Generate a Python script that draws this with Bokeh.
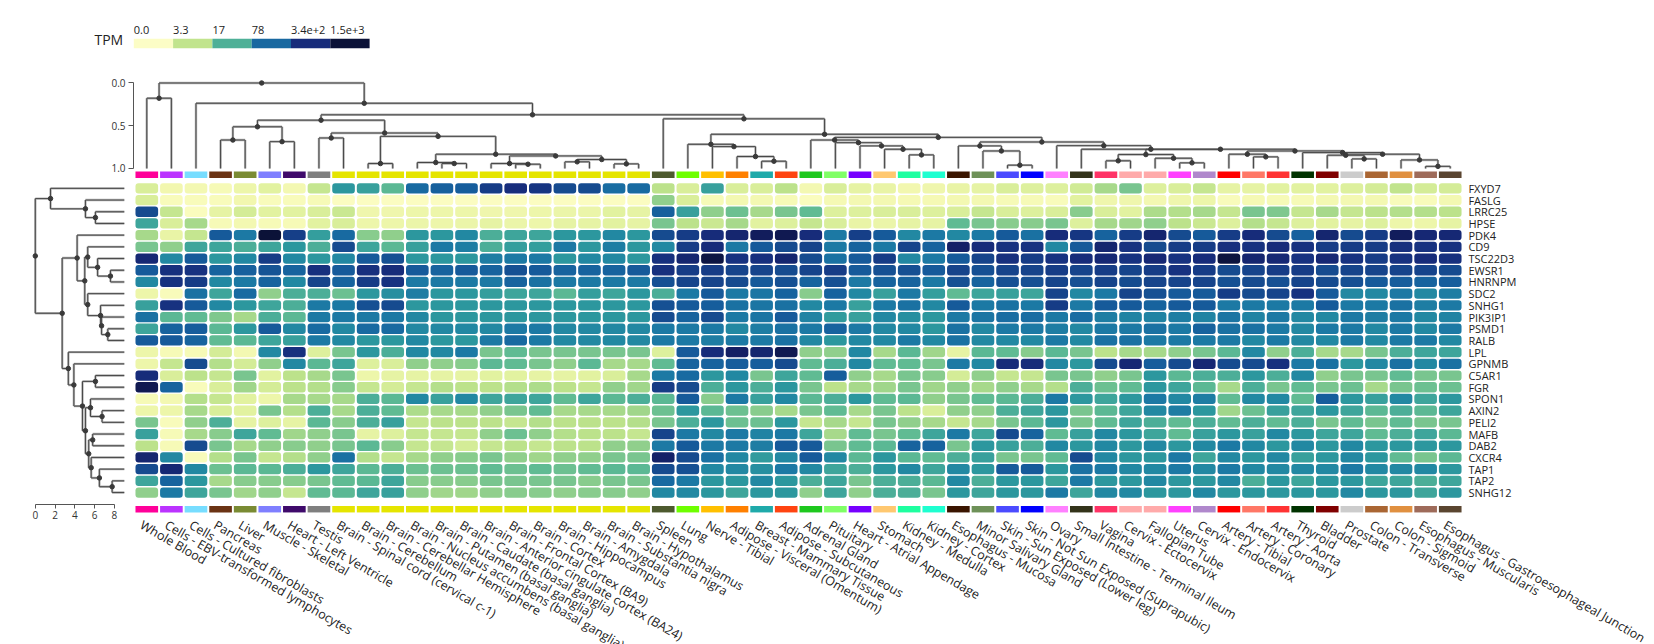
import math
from bokeh.plotting import figure
from bokeh.models import (Range1d, ColumnDataSource, LinearColorMapper, FixedTicker, PrintfTickFormatter,
                          LinearAxis)
from bokeh.layouts import column
from bokeh.embed import file_html
from bokeh.resources import INLINE
from bokeh.core.properties import value

FONT = "Open Sans"

# ---------------- data ----------------
tissues = ["Whole Blood", "Cells - EBV-transformed lymphocytes", "Cells - Cultured fibroblasts", "Pancreas", "Liver",
           "Muscle - Skeletal", "Heart - Left Ventricle", "Testis", "Brain - Spinal cord (cervical c-1)",
           "Brain - Cerebellum", "Brain - Cerebellar Hemisphere", "Brain - Nucleus accumbens (basal ganglia)",
           "Brain - Putamen (basal ganglia)", "Brain - Caudate (basal ganglia)",
           "Brain - Anterior cingulate cortex (BA24)", "Brain - Frontal Cortex (BA9)", "Brain - Cortex",
           "Brain - Hippocampus", "Brain - Amygdala", "Brain - Substantia nigra", "Brain - Hypothalamus", "Spleen",
           "Lung", "Nerve - Tibial", "Adipose - Visceral (Omentum)", "Breast - Mammary Tissue",
           "Adipose - Subcutaneous", "Adrenal Gland", "Pituitary", "Heart - Atrial Appendage", "Stomach",
           "Kidney - Medulla", "Kidney - Cortex", "Esophagus - Mucosa", "Minor Salivary Gland",
           "Skin - Sun Exposed (Lower leg)", "Skin - Not Sun Exposed (Suprapubic)", "Ovary",
           "Small Intestine - Terminal Ileum", "Vagina", "Cervix - Ectocervix", "Fallopian Tube", "Uterus",
           "Cervix - Endocervix", "Artery - Tibial", "Artery - Coronary", "Artery - Aorta", "Thyroid", "Bladder",
           "Prostate", "Colon - Transverse", "Colon - Sigmoid", "Esophagus - Muscularis",
           "Esophagus - Gastroesophageal Junction"]

tissue_colors = ["#FF0099", "#BB33FF", "#77DDFF", "#6B3314", "#7A8B33", "#7F7FFF", "#3F0A6B", "#7F7F7F",
                 "#E5E500", "#E5E500", "#E5E500", "#E5E500", "#E5E500", "#E5E500", "#E5E500", "#E5E500",
                 "#E5E500", "#E5E500", "#E5E500", "#E5E500", "#E5E500", "#4D5A2E", "#6EFF00", "#FFC000",
                 "#FF8000", "#1FAAAA", "#FF4411", "#1EC81E", "#80FF66", "#7700FF", "#FFC870", "#1EFFA0",
                 "#1EFFD0", "#3A1500", "#6E9158", "#4B4BFF", "#0000FF", "#FF80FF", "#33331A", "#FF3366",
                 "#FFAAAA", "#FFAAAA", "#FF40FF", "#B088CC", "#FF0000", "#FF7766", "#FF3333", "#003300",
                 "#800000", "#CCCCCC", "#AA6633", "#E09040", "#9E6B5A", "#5A4530"]

genes = ["FXYD7", "FASLG", "LRRC25", "HPSE", "PDK4", "CD9", "TSC22D3", "EWSR1", "HNRNPM", "SDC2", "SNHG1",
         "PIK3IP1", "PSMD1", "RALB", "LPL", "GPNMB", "C5AR1", "FGR", "SPON1", "AXIN2", "PELI2", "MAFB", "DAB2",
         "CXCR4", "TAP1", "TAP2", "SNHG12"]

# median TPM per tissue (same order as tissues)
FXYD7 = [2, 0.8, 0.7, 0.5, 1, 1.5, 0.7, 3, 30, 25, 15, 75, 90, 95, 220, 330, 260, 150, 150, 70, 75, 3.5, 2, 25, 2, 2,
         3.5, 0.7, 2, 1.3, 1.2, 0.8, 0.9, 1.2, 1.3, 2, 1.8, 1.8, 2.5, 5, 10, 1.8, 2, 3, 1.3, 1.3, 1.5, 1.5, 1.5, 1.8, 2.3, 3.2, 2.3, 2.3]
FASLG = [2, 0.4, 0.4, 0.4, 0.8, 0.4, 0.4, 0.5, 0.2, 0.2, 0.2, 0.2, 0.2, 0.2, 0.2, 0.2, 0.2, 0.2, 0.2, 0.2, 0.2, 7, 2, 0.5, 0.7, 0.7,
         0.5, 0.3, 0.6, 0.7, 0.7, 0.6, 0.6, 0.7, 0.7, 0.5, 0.5, 0.4, 1.5, 0.9, 0.9, 0.7, 0.9, 1, 0.4, 0.6, 0.5, 0.5, 0.7, 0.7, 0.7, 0.4, 0.4, 0.7]
LRRC25 = [150, 3, 0.3, 1.3, 2.3, 1.5, 1.5, 2, 2.8, 0.9, 0.9, 1, 1, 1, 0.9, 0.9, 1, 1.1, 1.1, 1.5, 1.3, 90, 25, 7, 12, 5,
          10, 14, 1.8, 1.8, 2, 2, 1.8, 2, 3, 2, 1.8, 2, 8, 2, 1.5, 4.5, 4, 5, 3, 10, 9, 3, 5, 3, 3.5, 4, 4, 3.5]
HPSE = [22, 2, 5, 0.5, 0.7, 0.5, 0.5, 1.5, 2, 1, 1, 1.1, 1, 1.1, 1.3, 1.1, 1, 1.3, 1.3, 1.5, 1.3, 10, 3.5, 2.8, 5, 1.5,
        1.8, 3, 2, 1.2, 1.1, 1.3, 1.3, 14, 10, 8, 8, 10, 1.8, 5, 5.5, 7, 3.5, 2.8, 1.8, 4, 3, 1.8, 1.5, 1.3, 1.8, 1, 1, 1.3]
PDK4 = [5, 1.2, 3, 100, 55, 2000, 200, 26, 75, 8, 7, 30, 30, 40, 18, 22, 22, 30, 30, 40, 30, 150, 220, 350, 450, 700,
        900, 350, 55, 200, 100, 40, 55, 40, 55, 100, 65, 350, 250, 85, 220, 450, 150, 100, 220, 350, 150, 90, 450, 150, 220, 700, 400, 400]
CD9 = [10, 7, 22, 22, 18, 22, 30, 18, 150, 22, 15, 25, 55, 50, 18, 26, 26, 55, 30, 50, 30, 40, 220, 350, 55, 100,
       150, 180, 55, 85, 55, 180, 85, 550, 350, 280, 280, 40, 100, 450, 280, 150, 220, 220, 300, 280, 350, 280, 220, 220, 220, 300, 280, 280]
TSC22D3 = [400, 40, 100, 30, 40, 220, 40, 30, 40, 100, 130, 30, 30, 30, 50, 55, 55, 30, 40, 40, 30, 300, 450, 1200, 280, 300,
           450, 150, 65, 100, 220, 40, 55, 100, 180, 300, 220, 280, 350, 400, 280, 400, 280, 350, 1300, 450, 400, 280, 400, 280, 220, 280, 350, 300]
EWSR1 = [100, 300, 280, 85, 90, 120, 85, 300, 100, 300, 350, 100, 85, 100, 85, 130, 100, 85, 85, 85, 100, 300, 220, 220, 180, 180,
         150, 180, 220, 100, 130, 130, 100, 180, 130, 180, 180, 220, 180, 220, 180, 220, 280, 220, 150, 180, 220, 220, 150, 180, 180, 180, 180, 150]
HNRNPM = [40, 280, 220, 40, 55, 85, 40, 180, 85, 220, 280, 55, 55, 55, 55, 85, 65, 55, 55, 55, 55, 130, 180, 180, 150, 100,
          130, 85, 130, 55, 85, 85, 55, 130, 85, 130, 130, 180, 130, 180, 150, 180, 180, 180, 130, 150, 130, 180, 150, 130, 100, 95, 85, 95]
SDC2 = [1, 0.4, 65, 22, 75, 7, 18, 18, 12, 30, 35, 50, 30, 30, 26, 22, 22, 15, 26, 22, 30, 18, 55, 100, 55, 60,
        85, 8, 85, 40, 25, 55, 26, 14, 22, 25, 22, 180, 40, 55, 180, 130, 100, 100, 220, 150, 180, 280, 100, 40, 40, 55, 40, 50]
SNHG1 = [25, 280, 100, 40, 30, 22, 18, 55, 55, 130, 150, 30, 30, 30, 30, 30, 30, 30, 30, 30, 30, 130, 100, 95, 65, 60,
         65, 40, 55, 25, 55, 65, 40, 100, 55, 65, 55, 220, 55, 100, 100, 85, 100, 100, 55, 55, 55, 55, 100, 55, 55, 65, 50, 55]
PIK3IP1 = [65, 15, 14, 9, 5, 18, 15, 55, 55, 55, 55, 40, 30, 30, 30, 30, 30, 30, 30, 30, 30, 150, 85, 150, 55, 60,
           100, 45, 28, 25, 40, 35, 30, 55, 60, 70, 70, 55, 70, 50, 45, 45, 50, 45, 60, 45, 55, 40, 40, 55, 50, 55, 40, 45]
PSMD1 = [22, 85, 95, 15, 30, 100, 40, 75, 40, 75, 75, 40, 40, 40, 40, 55, 55, 40, 40, 40, 40, 55, 55, 55, 40, 50,
         65, 55, 85, 55, 40, 40, 30, 65, 40, 55, 55, 50, 40, 55, 55, 65, 55, 85, 65, 65, 55, 40, 55, 55, 40, 55, 40, 55]
RALB = [100, 100, 85, 14, 15, 22, 25, 55, 40, 30, 30, 40, 30, 30, 55, 75, 55, 40, 40, 40, 40, 55, 55, 50, 55, 55,
        65, 40, 30, 40, 40, 55, 40, 65, 40, 40, 40, 55, 40, 65, 65, 55, 55, 55, 55, 40, 55, 40, 40, 55, 40, 55, 55, 40]
LPL = [1, 0.5, 0.5, 2.3, 0.7, 40, 300, 1.8, 10, 30, 18, 40, 40, 55, 10, 14, 10, 10, 10, 10, 10, 1.8, 100, 350, 600, 450,
       900, 7, 7, 40, 5, 15, 5.5, 1.3, 15, 14, 8, 15, 10, 3.5, 5, 5, 7, 10, 15, 40, 7, 18, 5, 5, 10, 18, 22, 22]
GPNMB = [1, 3, 150, 4, 2.3, 7, 40, 15, 22, 1.8, 2, 7, 7, 8, 15, 14, 10, 7, 15, 5, 5, 14, 85, 85, 95, 95,
         150, 14, 18, 40, 14, 14, 10, 55, 40, 350, 350, 40, 30, 150, 400, 95, 150, 400, 150, 150, 300, 55, 65, 30, 40, 65, 40, 65]
C5AR1 = [350, 2, 3.5, 3, 10, 1.5, 3.5, 5, 10, 1, 1.3, 1.3, 1.3, 1.3, 1.5, 1.5, 1.3, 1.3, 1.5, 2, 5, 55, 75, 30, 40, 10,
         22, 14, 95, 7, 5, 10, 8, 2.3, 7, 3, 3, 10, 10, 7, 10, 30, 15, 18, 18, 30, 18, 40, 7, 10, 10, 14, 10, 10]
FGR = [900, 85, 0.4, 2, 5.5, 2.3, 3.5, 4, 8, 3, 2.3, 3, 4, 3.5, 3.5, 4, 4.5, 3.5, 3, 7, 5.5, 220, 150, 18, 30, 18,
       30, 10, 3.5, 5, 5.5, 10, 5.5, 7, 5, 7, 5, 4, 18, 12, 14, 30, 22, 15, 5, 18, 10, 14, 10, 12, 5, 10, 12, 12]
SPON1 = [0.5, 0.7, 4, 3, 1.5, 1, 5, 5, 5, 18, 15, 40, 25, 40, 22, 22, 22, 14, 22, 15, 18, 15, 100, 8, 55, 25,
         40, 15, 18, 30, 14, 15, 7, 10, 14, 15, 18, 55, 30, 22, 30, 55, 40, 50, 14, 40, 40, 14, 95, 30, 25, 40, 22, 30]
AXIN2 = [1, 1, 5, 2, 1.5, 10, 4, 18, 5, 18, 14, 4.5, 5, 5, 7, 10, 14, 5, 5, 5, 5.5, 12, 30, 15, 12, 8,
         5, 10, 14, 5, 10, 3.5, 2, 7, 7, 18, 22, 30, 10, 15, 22, 40, 50, 30, 5.5, 12, 25, 22, 30, 22, 15, 18, 15, 22]
PELI2 = [10, 0.4, 7, 18, 1.3, 1.8, 1.3, 15, 8, 18, 25, 3, 3.5, 3.5, 3.5, 3, 4, 3.5, 3.5, 3.5, 4, 10, 18, 30, 12, 12,
         30, 3, 5, 3, 10, 7, 5, 3, 5, 10, 15, 30, 10, 14, 22, 18, 14, 18, 14, 18, 14, 18, 10, 14, 10, 14, 10, 10]
MAFB = [25, 0.5, 5, 8, 22, 14, 5.5, 7, 10, 1.3, 1.8, 3, 3, 3, 7, 12, 7, 4, 3.5, 3.5, 3, 180, 55, 40, 55, 45,
        55, 22, 5, 14, 10, 14, 22, 55, 22, 150, 85, 14, 25, 40, 30, 22, 14, 25, 30, 25, 40, 30, 22, 22, 14, 18, 22, 15]
DAB2 = [3.5, 0.5, 150, 10, 5, 7, 8, 7, 10, 15, 8, 3, 3, 2.3, 3, 3.5, 3, 3.5, 3.5, 7, 7, 55, 100, 55, 55, 50,
        100, 100, 10, 14, 15, 85, 85, 10, 30, 25, 18, 40, 30, 40, 30, 40, 30, 40, 55, 40, 30, 40, 30, 40, 30, 30, 30, 30]
CXCR4 = [450, 40, 0.4, 4, 10, 3, 4, 7, 65, 4, 3, 5, 7, 8, 10, 7, 5.5, 7, 7, 10, 10, 550, 150, 65, 40, 28,
         40, 100, 40, 15, 30, 15, 14, 18, 25, 10, 10, 14, 150, 40, 30, 30, 55, 22, 40, 30, 40, 25, 30, 40, 30, 14, 10, 15]
TAP1 = [150, 400, 40, 12, 15, 15, 18, 30, 22, 15, 18, 12, 12, 12, 14, 12, 14, 12, 14, 15, 15, 150, 130, 40, 40, 35,
        55, 40, 22, 18, 30, 40, 22, 40, 30, 100, 100, 30, 65, 55, 40, 40, 55, 40, 55, 40, 40, 40, 40, 55, 40, 40, 40, 30]
TAP2 = [22, 85, 30, 5, 8, 8, 8, 10, 14, 15, 22, 8, 8, 8, 10, 10, 10, 10, 8, 10, 10, 75, 55,
        30, 30, 40, 30, 18, 22, 10, 18, 18, 15, 40, 18, 30, 30, 22, 55, 30, 30, 40, 30, 30, 40, 18, 30, 22, 30, 30, 22, 22, 18, 22]
SNHG12 = [7, 55, 22, 10, 5.5, 7, 3, 14, 15, 22, 25, 7, 5.5, 5.5, 7, 8, 8, 7, 8, 8, 7, 40, 40,
          30, 22, 30, 30, 7, 22, 7, 18, 18, 10, 30, 22, 30, 30, 55, 22, 40, 40, 30, 30, 40, 30, 30, 30, 30, 30, 40, 30, 30, 22, 30]

gene_rows = [FXYD7, FASLG, LRRC25, HPSE, PDK4, CD9, TSC22D3, EWSR1, HNRNPM, SDC2, SNHG1, PIK3IP1, PSMD1, RALB,
             LPL, GPNMB, C5AR1, FGR, SPON1, AXIN2, PELI2, MAFB, DAB2, CXCR4, TAP1, TAP2, SNHG12]

# column (tissue) clustering: (child_a, child_b, height); leaves 0..53, node i -> 54+i
col_merges = [
    (0, 1, 0.178), (3, 4, 0.667), (5, 6, 0.686), (55, 56, 0.512), (7, 8, 0.643), (9, 10, 0.942),
    (12, 13, 0.942), (11, 60, 0.930), (15, 16, 0.950), (14, 62, 0.942), (17, 18, 0.922), (19, 20, 0.946),
    (64, 65, 0.895), (63, 66, 0.853), (61, 67, 0.833), (59, 68, 0.624), (58, 69, 0.585), (57, 70, 0.435),
    (25, 26, 0.915), (24, 72, 0.860), (23, 73, 0.744), (22, 74, 0.717),
    (31, 32, 0.841), (30, 76, 0.775), (29, 77, 0.736), (28, 78, 0.698), (27, 79, 0.667),
    (35, 36, 0.961), (34, 81, 0.795), (33, 82, 0.736),
    (39, 40, 0.910), (42, 43, 0.934), (41, 85, 0.880), (84, 86, 0.837),
    (45, 46, 0.864), (44, 88, 0.833), (49, 50, 0.888), (48, 90, 0.845), (52, 53, 0.975), (51, 92, 0.900),
    (91, 93, 0.833), (47, 94, 0.814), (89, 95, 0.795), (87, 96, 0.775), (38, 97, 0.775), (37, 98, 0.733),
    (83, 99, 0.690), (80, 100, 0.636), (75, 101, 0.600), (21, 102, 0.419), (71, 103, 0.372), (2, 104, 0.237),
    (54, 105, 0.0)]

# row (gene) clustering: (child_a, child_b, depth from root); leaves 0..26, node i -> 27+i
row_merges = [
    (2, 3, 6.08), (1, 27, 5.07), (0, 28, 1.54), (7, 8, 7.6), (6, 30, 6.3), (5, 31, 5.3), (12, 13, 7.33),
    (11, 33, 6.7), (10, 34, 6.6), (9, 35, 5.3), (32, 36, 5.0), (4, 37, 4.23), (16, 17, 6.08), (19, 20, 6.75),
    (18, 40, 5.58), (21, 22, 5.8), (25, 26, 7.77), (24, 43, 6.48), (23, 44, 5.65), (42, 45, 5.4),
    (41, 46, 5.07), (39, 47, 4.77), (15, 48, 3.9), (14, 49, 3.34), (38, 50, 2.72), (29, 51, 0.0)]
ROW_LEAF_DEPTH = 9.0

legend_values = [0, 3.3, 17, 78, 340, 1500]
legend_labels = ["0.0", "3.3", "17", "78", "3.4e+2", "1.5e+3"]

for g in gene_rows:
    assert len(g) == len(tissues), len(g)

# ---------------- colour scale ----------------
anchors = [(0.00, "#FCFDC6"), (0.11, "#FAFCBE"), (0.26, "#F1F7AE"), (0.40, "#E2F2A0"), (0.54, "#D0EB95"),
           (0.65, "#BCE28B"), (0.78, "#A6D98B"), (0.90, "#90CF8C"), (1.04, "#78C58F"), (1.18, "#5FBA93"),
           (1.28, "#4AAD98"), (1.36, "#3EA59B"), (1.49, "#2D989E"), (1.61, "#2288A2"), (1.75, "#1C79A4"),
           (1.88, "#186AA1"), (2.00, "#165B9B"), (2.18, "#164B8F"), (2.34, "#163C86"), (2.52, "#172D7C"),
           (2.78, "#141F64"), (3.18, "#0B1238")]


def _rgb(h):
    return tuple(int(h[i:i + 2], 16) for i in (1, 3, 5))


def _interp(t):
    for (t0, c0), (t1, c1) in zip(anchors, anchors[1:]):
        if t <= t1:
            f = (t - t0) / (t1 - t0)
            a, b = _rgb(c0), _rgb(c1)
            return "#%02x%02x%02x" % tuple(int(round(a[i] + (b[i] - a[i]) * f)) for i in range(3))
    return anchors[-1][1]


LO, HI = 0.0, 3.18
palette = [_interp(LO + (HI - LO) * i / 255.0) for i in range(256)]
mapper = LinearColorMapper(palette=palette, low=LO, high=HI, high_color=palette[-1], low_color=palette[0])


def dendro(n_leaves, merges, leaf_level, leaf_pos):
    pos = {i: leaf_pos(i) for i in range(n_leaves)}
    lev = {i: leaf_level for i in range(n_leaves)}
    segs = {"p0": [], "l0": [], "p1": [], "l1": []}
    nodes = {"p": [], "l": []}

    def add(p0, l0, p1, l1):
        segs["p0"].append(p0); segs["l0"].append(l0); segs["p1"].append(p1); segs["l1"].append(l1)

    for j, (a, b, h) in enumerate(merges):
        pa, pb = pos[a], pos[b]
        add(pa, lev[a], pa, h)
        add(pb, lev[b], pb, h)
        add(pa, h, pb, h)
        k = n_leaves + j
        pos[k] = (pa + pb) / 2.0
        lev[k] = h
        nodes["p"].append(pos[k]); nodes["l"].append(h)
    return segs, nodes


LINE_UNDER = "#b3b3b3"
LINE_TOP = "#474747"
DOT = "#3a3a3a"
TXT = "#222222"
W = 1654

NC = len(tissues)
NR = len(genes)

# horizontal layout (pixels): heatmap columns start at 134 px, 24.593 px per column
COL_PX = 24.593
COL_X0 = 134.0
XR_START = -COL_X0 / COL_PX
XR_END = XR_START + W / COL_PX


def base_fig(h, xr, yr):
    p = figure(width=W, height=h, x_range=xr, y_range=yr, toolbar_location=None, output_backend="svg",
               min_border=0, x_axis_location=None, y_axis_location=None, outline_line_color=None)
    p.grid.visible = False
    return p


# ---------------- legend figure ----------------
SW_PX, SW_X0 = 39.3, 133.3
L = base_fig(60, Range1d(-SW_X0 / SW_PX, -SW_X0 / SW_PX + W / SW_PX), Range1d(60, 0))
lsrc = ColumnDataSource(dict(left=list(range(len(legend_values))),
                             right=[i + 1 for i in range(len(legend_values))],
                             logv=[math.log10(v + 1) for v in legend_values],
                             label=legend_labels))
L.quad(left="left", right="right", top=38.3, bottom=47.7, source=lsrc,
       fill_color={"field": "logv", "transform": mapper}, line_color=None)
L.text(x="left", y=29.7, text="label", source=lsrc, text_font=value(FONT), text_font_size="11px",
       text_align="left", text_baseline="middle", text_color=TXT)
L.text(x=[-0.27], y=[39.0], text=["TPM"], text_font=value(FONT), text_font_size="14px",
       text_align="right", text_baseline="middle", text_color=TXT)

# ---------------- top dendrogram (+ top tissue colour bar) ----------------
# h = 0 at 82.5 px, h = 1 at 168 px; figure spans 60..178 px
T = base_fig(118, Range1d(XR_START, XR_END), Range1d(1.117, -0.263))
ax = LinearAxis(fixed_location=-0.04)
ax.ticker = FixedTicker(ticks=[0.0, 0.5, 1.0])
ax.formatter = PrintfTickFormatter(format="%.1f")
ax.bounds = (0, 1)
ax.minor_tick_line_color = None
ax.major_tick_in = 0
ax.major_tick_out = 5
ax.axis_line_color = "#555555"
ax.major_tick_line_color = "#555555"
ax.major_label_text_font = FONT
ax.major_label_text_font_size = "10px"
ax.major_label_text_color = "#333333"
ax.major_label_standoff = 3
T.add_layout(ax, "left")

csegs, cnodes = dendro(NC, col_merges, 1.0, lambda i: i + 0.5)
T.segment(x0=csegs["p0"], y0=csegs["l0"], x1=csegs["p1"], y1=csegs["l1"], line_color=LINE_UNDER, line_width=2.4)
T.segment(x0=csegs["p0"], y0=csegs["l0"], x1=csegs["p1"], y1=csegs["l1"], line_color=LINE_TOP, line_width=1)
T.scatter(x=cnodes["p"], y=cnodes["l"], size=4.5, color=DOT)

bars = ColumnDataSource(dict(left=[c + 0.04 for c in range(NC)], right=[c + 0.96 for c in range(NC)],
                             color=tissue_colors))
T.quad(left="left", right="right", top=1.035, bottom=1.112, source=bars, fill_color="color", line_color=None)

# ---------------- main figure: row dendrogram + heatmap + labels ----------------
# rows: row r centre at y = -r, 11.7 px per row, row 0 centre at 187.85 px; figure spans 178..644 px
ROW_PX = 11.7
M = base_fig(466, Range1d(XR_START, XR_END), Range1d(-(644 - 187.85) / ROW_PX, (187.85 - 178) / ROW_PX))
DEND_PX, DEND_X0 = 9.89, 34.8
M.extra_x_ranges = {"dend": Range1d(-DEND_X0 / DEND_PX, -DEND_X0 / DEND_PX + W / DEND_PX)}

bx = LinearAxis(x_range_name="dend", fixed_location=-(504 - 187.85) / ROW_PX)
bx.ticker = FixedTicker(ticks=[0, 2, 4, 6, 8])
bx.bounds = (0, 8)
bx.minor_tick_line_color = None
bx.major_tick_in = 0
bx.major_tick_out = 4
bx.axis_line_color = "#555555"
bx.major_tick_line_color = "#555555"
bx.major_label_text_font = FONT
bx.major_label_text_font_size = "10px"
bx.major_label_text_color = "#333333"
bx.major_label_standoff = 2
M.add_layout(bx, "below")

rsegs, rnodes = dendro(NR, row_merges, ROW_LEAF_DEPTH, lambda i: -i)
M.segment(x0=rsegs["l0"], y0=rsegs["p0"], x1=rsegs["l1"], y1=rsegs["p1"], line_color=LINE_UNDER, line_width=2.4,
          x_range_name="dend")
M.segment(x0=rsegs["l0"], y0=rsegs["p0"], x1=rsegs["l1"], y1=rsegs["p1"], line_color=LINE_TOP, line_width=1,
          x_range_name="dend")
M.scatter(x=rnodes["l"], y=rnodes["p"], size=4.5, color=DOT, x_range_name="dend")

cells = {"left": [], "right": [], "top": [], "bottom": [], "logv": [], "tpm": []}
for r, vals in enumerate(gene_rows):
    for c, v in enumerate(vals):
        cells["left"].append(c + 0.04)
        cells["right"].append(c + 0.96)
        cells["top"].append(-r + 0.44)
        cells["bottom"].append(-r - 0.44)
        cells["logv"].append(math.log10(v + 1))
        cells["tpm"].append(v)
M.quad(left="left", right="right", top="top", bottom="bottom", source=ColumnDataSource(cells),
       fill_color={"field": "logv", "transform": mapper}, line_color=None, border_radius=3)

M.quad(left="left", right="right", top=-27.15, bottom=-27.7, source=bars, fill_color="color", line_color=None)

M.text(x=[c + 0.45 for c in range(NC)], y=-28.05, text=tissues, angle=-math.pi / 6,
       text_font=value(FONT), text_font_size="12.5px", text_align="left", text_baseline="top", text_color=TXT)
M.text(x=NC + 0.24, y=[-r for r in range(NR)], text=genes, text_font=value(FONT), text_font_size="11px",
       text_align="left", text_baseline="middle", text_color=TXT)

layout = column(L, T, M)
open("out.html", "w").write(file_html(layout, INLINE, title="Multi-gene expression heatmap"))
